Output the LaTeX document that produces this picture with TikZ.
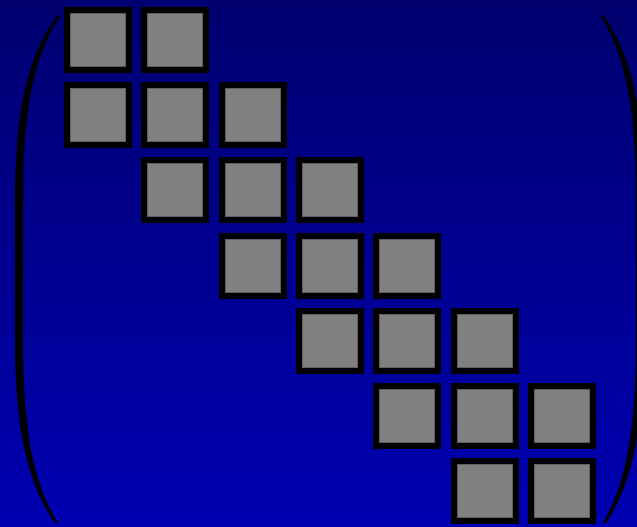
\documentclass[tikz,border=0pt]{standalone}
\usetikzlibrary{calc}
\definecolor{bgtop}{RGB}{0,0,112}
\definecolor{bgbot}{RGB}{0,0,178}
\definecolor{cellgray}{RGB}{128,128,128}
\definecolor{celledge}{RGB}{96,96,96}
\begin{document}
\begin{tikzpicture}[x=1pt,y=-1pt,
  cell/.style={draw=black, line width=6pt, fill=cellgray, inner sep=0pt,
    minimum width=62pt, minimum height=60pt,
    path picture={\draw[celledge, line width=1pt]
      ($(path picture bounding box.south west)+(3.5pt,3.5pt)$) rectangle
      ($(path picture bounding box.north east)+(-3.5pt,-3.5pt)$);}},
  paren/.style={fill=black, draw=none}]
\useasboundingbox (0,0) rectangle (637,527);
\clip (0,0) rectangle (637,527);
\shade[top color=bgtop, bottom color=bgbot] (0,0) rectangle (637,527);
% cells
\foreach \r/\cmin/\cmax in {1/1/2,2/1/3,3/2/4,4/3/5,5/4/6,6/5/7,7/6/7}{
  \foreach \c in {\cmin,...,\cmax}{
    \node[cell] (c\r\c) at ({98+(\c-1)*77.3},{40+(\r-1)*75.2}) {};
  }
}
% left parenthesis
\path[paren] (57,16) .. controls (28,55) and (15,110) .. (15,200) -- (15,340)
  .. controls (15,430) and (28,485) .. (55,523)
  -- (58,523) .. controls (33,483) and (23,430) .. (23,340) -- (23,200)
  .. controls (23,110) and (33,57) .. (60,16) -- cycle;
% right parenthesis
\path[paren] (604,16) .. controls (631,55) and (644,110) .. (644,200) -- (644,340)
  .. controls (644,430) and (631,485) .. (606,523)
  -- (603,523) .. controls (626,483) and (636,430) .. (636,340) -- (636,200)
  .. controls (636,110) and (626,57) .. (601,16) -- cycle;
\end{tikzpicture}
\end{document}
